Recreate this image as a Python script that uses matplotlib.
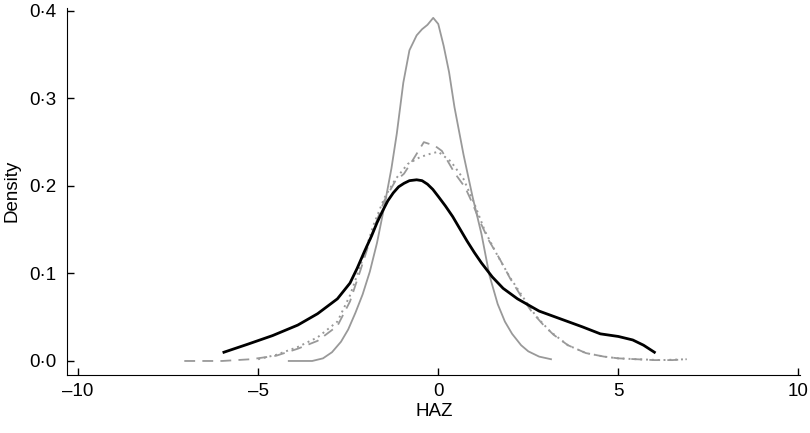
import matplotlib
matplotlib.use("Agg")
import matplotlib.pyplot as plt
from matplotlib.ticker import FuncFormatter

plt.rcParams['font.family'] = ['Liberation Sans', 'DejaVu Sans']

# black solid curve
black_x = [-5.95, -5.3, -4.6, -3.9, -3.35, -2.8, -2.45, -2.25, -2.05, -1.85, -1.7, -1.55, -1.4, -1.25,
           -1.1, -0.95, -0.8, -0.6, -0.45, -0.3, -0.15, 0.0, 0.2, 0.4, 0.6, 0.8, 1.0, 1.2, 1.5, 1.8,
           2.2, 2.8, 3.4, 4.0, 4.5, 5.0, 5.4, 5.7, 6.0]
black_y = [0.010, 0.019, 0.029, 0.041, 0.054, 0.071, 0.089, 0.106, 0.125, 0.143, 0.158, 0.171, 0.183,
           0.192, 0.199, 0.203, 0.206, 0.207, 0.206, 0.202, 0.196, 0.188, 0.177, 0.165, 0.151, 0.137,
           0.124, 0.112, 0.096, 0.083, 0.071, 0.057, 0.048, 0.039, 0.031, 0.028, 0.024, 0.018, 0.010]

# tall grey solid curve
tall_x = [-4.15, -3.5, -3.2, -2.95, -2.7, -2.5, -2.3, -2.1, -1.9, -1.7, -1.5, -1.3, -1.15, -0.97,
          -0.8, -0.6, -0.45, -0.3, -0.14, 0.0, 0.15, 0.3, 0.45, 0.7, 0.95, 1.2, 1.42, 1.65, 1.85,
          2.05, 2.3, 2.5, 2.8, 3.13]
tall_y = [0.0, 0.0, 0.003, 0.010, 0.022, 0.036, 0.055, 0.076, 0.102, 0.135, 0.176, 0.22, 0.26, 0.318,
          0.355, 0.372, 0.379, 0.384, 0.392, 0.385, 0.36, 0.33, 0.29, 0.236, 0.188, 0.145, 0.098, 0.065,
          0.045, 0.031, 0.018, 0.011, 0.005, 0.002]

# grey dashed curve
dash_x = [-7.05, -6.0, -5.2, -4.5, -3.9, -3.35, -2.8, -2.45, -2.15, -1.8, -1.5, -1.2, -0.95, -0.7,
          -0.4, -0.1, 0.1, 0.45, 0.75, 0.95, 1.15, 1.4, 1.7, 2.0, 2.3, 2.6, 2.9, 3.2, 3.6, 4.1, 4.6,
          5.0, 5.5, 6.0, 6.5, 6.9]
dash_y = [0.0, 0.0, 0.002, 0.006, 0.014, 0.023, 0.040, 0.068, 0.105, 0.150, 0.183, 0.205, 0.214, 0.230,
          0.250, 0.246, 0.240, 0.215, 0.198, 0.180, 0.160, 0.138, 0.117, 0.094, 0.074, 0.056, 0.042,
          0.030, 0.018, 0.009, 0.005, 0.003, 0.002, 0.001, 0.001, 0.002]

# grey dotted curve
dot_x = [-5.0, -4.5, -3.9, -3.35, -2.8, -2.45, -2.15, -1.8, -1.5, -1.2, -0.85, -0.5, -0.2, 0.0,
         0.35, 0.7, 1.0, 1.3, 1.65, 2.0, 2.4, 2.7, 3.1, 3.6, 4.1, 4.6, 5.0, 5.5, 6.2, 6.9]
dot_y = [0.002, 0.007, 0.016, 0.027, 0.045, 0.075, 0.110, 0.155, 0.186, 0.207, 0.225, 0.233, 0.237,
         0.239, 0.228, 0.208, 0.180, 0.148, 0.120, 0.095, 0.070, 0.052, 0.034, 0.018, 0.009, 0.005,
         0.003, 0.002, 0.001, 0.002]

grey = "#999999"

fig = plt.figure(figsize=(8.1, 4.33), dpi=100)
ax = fig.add_axes([0.083, 0.135, 0.905, 0.847])

ax.plot(tall_x, tall_y, color=grey, linewidth=1.3)
ax.plot(dash_x, dash_y, color=grey, linewidth=1.3, dashes=(6, 4))
ax.plot(dot_x, dot_y, color=grey, linewidth=1.4, linestyle=(0, (1, 2)))
ax.plot(black_x, black_y, color="black", linewidth=2.0)

ax.set_xlim(-10.3, 10.05)
ax.set_ylim(-0.0155, 0.4035)
ax.set_xticks([-10, -5, 0, 5, 10])
ax.set_yticks([0.0, 0.1, 0.2, 0.3, 0.4])
ax.xaxis.set_major_formatter(FuncFormatter(lambda v, p: f"{v:.0f}".replace("-", "\u2013")))
ax.yaxis.set_major_formatter(FuncFormatter(lambda v, p: f"{v:.1f}".replace(".", "\u00b7")))

for s in ["top", "right"]:
    ax.spines[s].set_visible(False)
ax.tick_params(direction="in", length=5, width=1, labelsize=13.5)
ax.tick_params(axis="x", pad=6)
ax.tick_params(axis="y", pad=8)
ax.set_xlabel("HAZ", fontsize=13.5, labelpad=2)
ax.set_ylabel("Density", fontsize=13.5, labelpad=6)

plt.savefig("out.png", dpi=100)
